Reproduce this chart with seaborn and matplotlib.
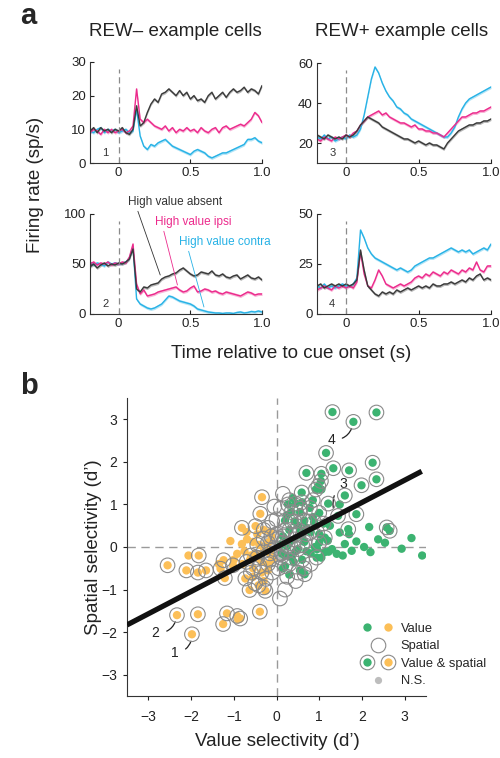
import numpy as np
import pandas as pd
import matplotlib
matplotlib.use("Agg")
import matplotlib.pyplot as plt
import seaborn as sns
from matplotlib.lines import Line2D
from matplotlib.legend_handler import HandlerTuple

# =========================
# DATA: panel a (firing rates, read every 25 ms)
# =========================

time_s = np.linspace(-0.2, 1.0, 49)

conditions = ["High value contra", "High value ipsi", "High value absent"]

cell1_absent = [9.5, 10.5, 9, 10.5, 9.5, 10, 9, 10, 9.5, 10.5, 9, 8.5, 10, 17, 11, 12, 15, 17.5, 19, 18,
                20.5, 21, 22, 21, 20, 21.5, 20, 21, 19, 20, 18.5, 19, 18, 20, 21, 19, 20, 21, 19.5, 21,
                22, 21, 21.5, 22.5, 21, 22, 21.5, 20.5, 23]
cell1_ipsi = [9, 10, 9.5, 8.5, 10, 9, 10, 9, 9.5, 10, 9, 9.5, 11, 22, 13, 12, 13, 12, 11, 10.5,
              10, 11, 9.5, 10.5, 9, 10, 9.5, 10.5, 9.5, 10, 9, 10.5, 9.5, 9, 10, 10.5, 9, 10.5, 11, 10,
              10.5, 11, 11.5, 11, 12, 13, 15, 14, 12]
cell1_contra = [9.5, 9, 10, 10.5, 9, 10, 9.5, 10, 9, 9.5, 10, 9, 9.5, 16, 8, 5, 4, 5.5, 5, 6,
                6.5, 7, 6, 5, 4.5, 4, 3.5, 3, 2.5, 3.5, 4, 3.5, 3, 2, 1.5, 2, 2.5, 3, 3, 3.5,
                4, 4.5, 5, 5.5, 7, 7, 7.5, 6.5, 6]

cell2_absent = [47, 50, 46, 49, 51, 48, 50, 49, 51, 50, 52, 55, 65, 25, 22, 27, 26, 29, 30, 31,
                35, 37, 38, 40, 41, 44, 46, 43, 40, 38, 39, 42, 41, 40, 43, 39, 38, 40, 37, 36,
                38, 39, 35, 37, 39, 36, 35, 37, 34]
cell2_ipsi = [50, 52, 49, 51, 50, 52, 49, 51, 50, 52, 51, 57, 70, 30, 20, 24, 18, 19, 20, 22,
              23, 24, 25, 26, 27, 24, 22, 23, 26, 28, 22, 23, 25, 24, 22, 23, 21, 20, 22, 21,
              20, 19, 18, 20, 22, 21, 19, 20, 20]
cell2_contra = [52, 49, 51, 50, 48, 52, 50, 51, 50, 51, 52, 56, 67, 15, 10, 8, 6, 5, 6, 8,
                10, 14, 18, 17, 15, 13, 12, 11, 10, 8, 5, 4, 3, 2, 1.5, 1, 1, 0.5, 1, 1,
                0.5, 1.5, 2, 1, 1.5, 2.5, 2, 3, 2]

cell3_absent = [24, 23, 22, 24, 23, 22, 23, 22, 24, 23, 24, 26, 29, 31, 33, 32, 31, 30, 28, 27,
                26, 25, 24, 23, 22, 22, 21, 20, 21, 20, 19, 20, 19, 19, 18, 17, 20, 22, 24, 26,
                27, 28, 29, 29, 30, 30, 31, 31, 32]
cell3_ipsi = [22, 21, 23, 22, 21, 23, 22, 23, 24, 23, 25, 26, 29, 31, 33, 34, 35, 36, 34, 35,
              33, 32, 31, 30, 30, 29, 28, 29, 27, 27, 26, 26, 25, 25, 24, 23, 25, 27, 29, 31,
              33, 33, 34, 35, 35, 36, 36, 37, 38]
cell3_contra = [23, 22, 24, 22, 23, 21, 22, 23, 22, 24, 23, 24, 27, 34, 43, 52, 58, 55, 50, 46,
                43, 41, 38, 37, 35, 34, 32, 31, 30, 29, 28, 27, 26, 25, 24, 23, 23, 25, 28, 33,
                37, 40, 42, 43, 44, 45, 46, 47, 48]

cell4_absent = [14, 15, 13, 14, 15, 14, 15, 14, 15, 14, 15, 17, 32, 22, 14, 12, 10, 9, 11, 10,
                11, 10, 12, 11, 12, 13, 12, 13, 14, 13, 14, 13, 15, 14, 14, 15, 15, 16, 15, 16,
                17, 16, 18, 17, 19, 20, 17, 18, 17]
cell4_ipsi = [12, 13, 14, 13, 12, 14, 13, 14, 13, 14, 13, 16, 31, 20, 14, 13, 17, 22, 19, 15,
              14, 13, 14, 15, 14, 15, 16, 18, 19, 18, 20, 19, 21, 20, 19, 21, 20, 22, 21, 20,
              22, 21, 23, 22, 26, 22, 21, 24, 24]
cell4_contra = [14, 13, 15, 13, 14, 13, 14, 15, 14, 14, 15, 18, 42, 38, 33, 30, 28, 27, 26, 25,
                24, 23, 22, 23, 22, 21, 22, 24, 25, 26, 27, 28, 28, 29, 30, 31, 32, 33, 32, 31,
                32, 31, 32, 30, 31, 32, 33, 32, 35]

# =========================
# DATA: panel b (d' values)
# =========================

green_ring_x = [1.31, 2.34, 1.80, 1.16, 2.25, 1.33, 1.70, 0.70, 1.05, 2.34, 1.04, 0.98, 1.99, 0.92,
                0.59, 1.60, 1.21, 1.87, 1.44, 2.58, 2.65, 1.68, 1.13, 0.27, 0.45, 0.35, 0.55, 0.78,
                1.00, 0.20, 0.42, 0.65, 0.88, 1.10, 0.30, 0.55, 0.80, 0.15, 0.42, 0.65, 0.25, 0.50,
                0.12, 0.35, 0.60, 0.94, 0.66, 0.20, 1.00, 0.85, 0.60]
green_ring_y = [3.17, 3.16, 2.94, 2.21, 1.98, 1.85, 1.80, 1.74, 1.72, 1.59, 1.55, 1.43, 1.45, 1.35,
                1.28, 1.21, 1.02, 0.77, 0.73, 0.46, 0.38, 0.42, 0.22, 1.00, 1.02, 0.82, 0.82, 0.92,
                0.80, 0.62, 0.60, 0.62, 0.58, 0.55, 0.40, 0.38, 0.35, 0.25, 0.18, 0.12, 0.02, -0.05,
                -0.15, -0.25, -0.30, -0.25, -0.64, -0.45, 0.10, 1.10, 1.05]

green_val_x = [2.17, 3.16, 2.38, 2.54, 1.87, 1.60, 1.48, 1.48, 1.13, 1.41, 1.76, 2.93, 3.41, 0.55,
               0.30, 0.45, 0.70, 0.90, 1.20, 0.60, 0.20, 0.40, 0.80, 1.00, 0.10, 0.50, 0.70, 0.25,
               0.85, 1.25, 0.38, 1.05, 0.95, 1.30, 0.15, 0.30, 2.05, 2.20, 1.70, 1.55, 1.05, 1.22]
green_val_y = [0.47, 0.21, 0.18, 0.10, 0.13, 0.07, 0.34, 1.00, -0.12, -0.16, -0.09, -0.04, -0.20, -0.55,
               0.10, -0.10, -0.10, 0.00, 0.15, 0.25, -0.20, -0.35, -0.15, 0.30, 0.05, 0.50, 0.45, 0.75,
               0.70, 0.50, 1.15, 1.35, -0.05, -0.05, -0.50, -0.65, 0.00, -0.12, 0.30, -0.20, -0.25, -0.11]

orange_ring_x = [-0.34, -0.38, -0.81, -0.49, -0.30, -2.55, -1.82, -2.11, -1.84, -1.65, -1.31, -1.24,
                 -1.02, -1.21, -2.33, -1.84, -1.98, -1.25, -1.16, -0.92, -0.85, -0.39, -0.63, -0.26,
                 -0.42, -0.73, -0.35, -0.55, -0.20, -0.45, -0.15, -0.30, -0.60, -0.20, -0.12]
orange_ring_y = [1.17, 0.78, 0.45, 0.49, 0.40, -0.43, -0.20, -0.55, -0.60, -0.55, -0.51, -0.31,
                 -0.43, -0.73, -1.60, -1.58, -2.05, -1.81, -1.56, -1.62, -1.68, -1.52, -1.01, -1.03,
                 -0.90, -0.74, -0.60, -0.50, -0.40, -0.25, -0.15, -0.10, -0.20, 0.10, 0.25]

orange_val_x = [-2.06, -1.08, -0.81, -0.69, -0.55, -0.92, -0.75, -0.62, -0.40, -0.25, -0.50, -0.35,
                -0.70, -0.15, -0.45, -1.00, -0.80, -0.10, -0.55, -0.30, -1.35, -0.90, -0.20]
orange_val_y = [-0.20, 0.14, 0.07, 0.18, 0.12, -0.16, -0.10, -0.30, 0.05, -0.05, -0.15, -0.35,
                0.35, 0.35, 0.30, -0.30, -0.40, -0.30, -0.70, -0.80, -0.40, -1.70, -0.55]

spatial_x = [0.08, -0.10, 0.10, 0.30, -0.30, 0.00, 0.20, -0.15, 0.05, 0.25, 0.45, -0.25, 0.15, 0.35,
             0.55, 0.70, -0.05, 0.10, 0.30, 0.50, 0.65, -0.40, -0.60, -0.05, 0.15, 0.00, 0.40, -0.20,
             0.60, 0.80, -0.30, 0.20, 0.75, 0.95, 0.05, -0.45, 0.25, -0.10, 0.45, -0.70, -0.50]
spatial_y = [-1.21, 0.60, 0.90, 1.10, 0.20, 0.30, 0.40, -0.30, -0.50, -0.70, -0.80, -0.75, 0.10, 0.60,
             0.90, 0.30, -0.05, -0.25, -0.40, -0.60, -0.50, -0.45, -0.60, 0.95, 1.25, 0.65, 0.00, 0.45,
             0.05, -0.40, -0.95, -1.00, 0.60, 0.35, 0.20, 0.05, -0.10, -0.60, 0.30, -0.35, -0.85]

ns_x = [-0.30, -0.20, -0.10, 0.00, 0.05, 0.10, -0.05, 0.15, -0.15, 0.20, -0.25, 0.00, 0.10, -0.35,
        0.25, -0.10, 0.05]
ns_y = [-0.05, 0.05, -0.10, 0.00, -0.15, 0.05, 0.10, -0.05, -0.20, 0.15, 0.15, -0.25, -0.30, -0.25,
        -0.20, 0.25, 0.35]

fit_slope = 0.523
fit_intercept = 0.0

# =========================
# STYLE
# =========================

sns.set_theme(style="ticks")
plt.rcParams["font.family"] = ["Liberation Sans", "DejaVu Sans"]

trace_colors = {"High value contra": "#27b2e6",
                "High value ipsi": "#ec2a8c",
                "High value absent": "#3a3a3a"}
green = "#3cb371"
orange = "#fcbf57"
ring_gray = "#8a8a8a"
ns_gray = "#bdbdbd"

W, H = 500, 758
fig = plt.figure(figsize=(W / 100, H / 100), dpi=100)


def px_axes(left, top, right, bottom):
    return fig.add_axes([left / W, 1 - bottom / H, (right - left) / W, (bottom - top) / H])


# =========================
# PANEL a
# =========================

def plot_cell(ax, traces, ylim, yticks, number):
    rows = []
    for cond in conditions:
        for t, r in zip(time_s, traces[cond]):
            rows.append({"time": t, "rate": r, "cond": cond})
    df = pd.DataFrame(rows)

    band = 0.015 * (ylim[1] - ylim[0])
    for cond in conditions:
        y = np.array(traces[cond])
        ax.fill_between(time_s, y - band, y + band, color=trace_colors[cond], alpha=0.35, lw=0)
    sns.lineplot(data=df, x="time", y="rate", hue="cond", hue_order=conditions,
                 palette=trace_colors, legend=False, lw=1.0, ax=ax)

    ax.axvline(0, ymin=0, ymax=0.93, color="#8a8a8a", lw=0.9, dashes=(5, 3))
    ax.set_xlim(-0.2, 1.0)
    ax.set_ylim(*ylim)
    ax.set_xticks([0, 0.5, 1.0])
    ax.set_xticklabels(["0", "0.5", "1.0"])
    ax.set_yticks(yticks)
    ax.set_xlabel("")
    ax.set_ylabel("")
    ax.tick_params(direction="in", length=3, width=0.8, labelsize=9.5, pad=3, colors="#222222")
    sns.despine(ax=ax)
    for s in ["left", "bottom"]:
        ax.spines[s].set_linewidth(0.8)
        ax.spines[s].set_color("#333333")
    ax.text(0.07, 0.05, number, transform=ax.transAxes, fontsize=8, color="#333333",
            ha="left", va="bottom")


ax1 = px_axes(90, 62, 262, 163)
ax2 = px_axes(90, 214, 262, 314)
ax3 = px_axes(317, 63, 491, 163)
ax4 = px_axes(317, 214, 491, 314)

plot_cell(ax1, dict(zip(conditions, [cell1_contra, cell1_ipsi, cell1_absent])), (0, 30), [0, 10, 20, 30], "1")
plot_cell(ax2, dict(zip(conditions, [cell2_contra, cell2_ipsi, cell2_absent])), (0, 100), [0, 50, 100], "2")
plot_cell(ax3, dict(zip(conditions, [cell3_contra, cell3_ipsi, cell3_absent])), (10, 60), [20, 40, 60], "3")
plot_cell(ax4, dict(zip(conditions, [cell4_contra, cell4_ipsi, cell4_absent])), (0, 50), [0, 25, 50], "4")

# condition labels with pointer lines
ax2.annotate("High value absent", xy=(0.29, 39), xytext=(0.067, 112), fontsize=8.5,
             color="#333333", va="center", annotation_clip=False,
             arrowprops=dict(arrowstyle="-", color="#333333", lw=0.6, relpos=(0.09, 0.0),
                             shrinkA=0, shrinkB=0))
ax2.annotate("High value ipsi", xy=(0.41, 29), xytext=(0.256, 92), fontsize=8.5,
             color=trace_colors["High value ipsi"], va="center", annotation_clip=False,
             arrowprops=dict(arrowstyle="-", color=trace_colors["High value ipsi"], lw=0.6,
                             relpos=(0.1, 0.0), shrinkA=0, shrinkB=0))
ax2.annotate("High value contra", xy=(0.595, 7), xytext=(0.418, 72), fontsize=8.5,
             color=trace_colors["High value contra"], va="center", annotation_clip=False,
             arrowprops=dict(arrowstyle="-", color=trace_colors["High value contra"], lw=0.6,
                             relpos=(0.1, 0.0), shrinkA=0, shrinkB=0))

fig.text(20 / W, 1 - 16 / H, "a", fontsize=21, fontweight="bold", ha="left", va="center")
fig.text(175 / W, 1 - 31 / H, "REW– example cells", fontsize=13.5, ha="center", va="center", color="#222222")
fig.text(402 / W, 1 - 31 / H, "REW+ example cells", fontsize=13.5, ha="center", va="center", color="#222222")
fig.text(35 / W, 1 - 185 / H, "Firing rate (sp/s)", fontsize=13.5, rotation=90, ha="center", va="center",
         color="#222222")
fig.text(291 / W, 1 - 353 / H, "Time relative to cue onset (s)", fontsize=13.5, ha="center", va="center",
         color="#222222")

# =========================
# PANEL b
# =========================

axb = px_axes(127, 398, 426, 696)
axb.axvline(0, color="#9a9a9a", lw=1.0, dashes=(6, 4), zorder=0)
axb.axhline(0, color="#9a9a9a", lw=1.0, dashes=(6, 4), zorder=0)

dot_s = 36
ring_s = 110

sns.scatterplot(x=ns_x, y=ns_y, s=26, color=ns_gray, edgecolor="none", ax=axb, zorder=2)
sns.scatterplot(x=orange_val_x, y=orange_val_y, s=dot_s, color=orange, edgecolor="none", ax=axb, zorder=3)
sns.scatterplot(x=green_val_x, y=green_val_y, s=dot_s, color=green, edgecolor="none", ax=axb, zorder=3)
sns.scatterplot(x=orange_ring_x, y=orange_ring_y, s=dot_s, color=orange, edgecolor="none", ax=axb, zorder=3)
sns.scatterplot(x=green_ring_x, y=green_ring_y, s=dot_s, color=green, edgecolor="none", ax=axb, zorder=3)
sns.scatterplot(x=spatial_x, y=spatial_y, s=ring_s, facecolor="none", edgecolor=ring_gray,
                linewidth=0.8, ax=axb, zorder=4)
sns.scatterplot(x=orange_ring_x, y=orange_ring_y, s=ring_s, facecolor="none", edgecolor=ring_gray,
                linewidth=0.8, ax=axb, zorder=4)
sns.scatterplot(x=green_ring_x, y=green_ring_y, s=ring_s, facecolor="none", edgecolor=ring_gray,
                linewidth=0.8, ax=axb, zorder=4)

fit_x = np.array([-3.5, 3.4])
axb.plot(fit_x, fit_slope * fit_x + fit_intercept, color="#111111", lw=3.8, solid_capstyle="butt", zorder=5)

# example cell labels
label_kw = dict(fontsize=10, color="#222222", ha="center", va="center")
curve = dict(arrowstyle="-", color="#222222", lw=0.9, shrinkA=3, shrinkB=5)
axb.annotate("4", xy=(1.80, 2.94), xytext=(1.28, 2.52), **label_kw,
             arrowprops=dict(connectionstyle="arc3,rad=0.45", **curve))
axb.annotate("3", xy=(1.37, 0.77), xytext=(1.56, 1.49), **label_kw,
             arrowprops=dict(connectionstyle="arc3,rad=0.35", **curve))
axb.annotate("2", xy=(-2.33, -1.60), xytext=(-2.83, -2.02), **label_kw,
             arrowprops=dict(connectionstyle="arc3,rad=0.45", **curve))
axb.annotate("1", xy=(-1.98, -2.05), xytext=(-2.38, -2.48), **label_kw,
             arrowprops=dict(connectionstyle="arc3,rad=0.45", **curve))

axb.set_xlim(-3.5, 3.5)
axb.set_ylim(-3.5, 3.5)
axb.set_xticks([-3, -2, -1, 0, 1, 2, 3])
axb.set_yticks([-3, -2, -1, 0, 1, 2, 3])
axb.tick_params(direction="out", length=3, width=0.8, labelsize=10, colors="#222222")
axb.tick_params(axis="x", pad=7)
axb.tick_params(axis="y", pad=4)
sns.despine(ax=axb)
for s in ["left", "bottom"]:
    axb.spines[s].set_linewidth(0.8)
    axb.spines[s].set_color("#333333")

# legend
h_gdot = Line2D([], [], marker="o", ls="", markersize=6, markerfacecolor=green, markeredgecolor="none")
h_odot = Line2D([], [], marker="o", ls="", markersize=6, markerfacecolor=orange, markeredgecolor="none")
h_ring = Line2D([], [], marker="o", ls="", markersize=10.5, markerfacecolor="none",
                markeredgecolor=ring_gray, markeredgewidth=0.8)
h_ring2 = Line2D([], [], marker="o", ls="", markersize=10.5, markerfacecolor="none",
                 markeredgecolor=ring_gray, markeredgewidth=0.8)
h_ring3 = Line2D([], [], marker="o", ls="", markersize=10.5, markerfacecolor="none",
                 markeredgecolor=ring_gray, markeredgewidth=0.8)
h_ns = Line2D([], [], marker="o", ls="", markersize=5.2, markerfacecolor=ns_gray, markeredgecolor="none")

value_pair = (h_gdot, h_odot)
both_pair = ((h_gdot, h_ring2), (h_odot, h_ring3))
axb.legend([value_pair, h_ring, both_pair, h_ns],
           ["Value", "Spatial", "Value & spatial", "N.S."],
           handler_map={value_pair: HandlerTuple(ndivide=None, pad=0.6),
                        both_pair: HandlerTuple(ndivide=None, pad=0.6)},
           loc="lower left", bbox_to_anchor=(0.78, 0.03), frameon=False, fontsize=9.3,
           handlelength=2.7, handletextpad=0.45, labelspacing=0.42, borderpad=0, borderaxespad=0)

fig.text(20 / W, 1 - 386 / H, "b", fontsize=21, fontweight="bold", ha="left", va="center")
fig.text(277 / W, 1 - 742 / H, "Value selectivity (d’)", fontsize=13.5, ha="center", va="center",
         color="#222222")
fig.text(93 / W, 1 - 547 / H, "Spatial selectivity (d’)", fontsize=13.5, rotation=90, ha="center",
         va="center", color="#222222")

fig.savefig("out.png", dpi=100)
